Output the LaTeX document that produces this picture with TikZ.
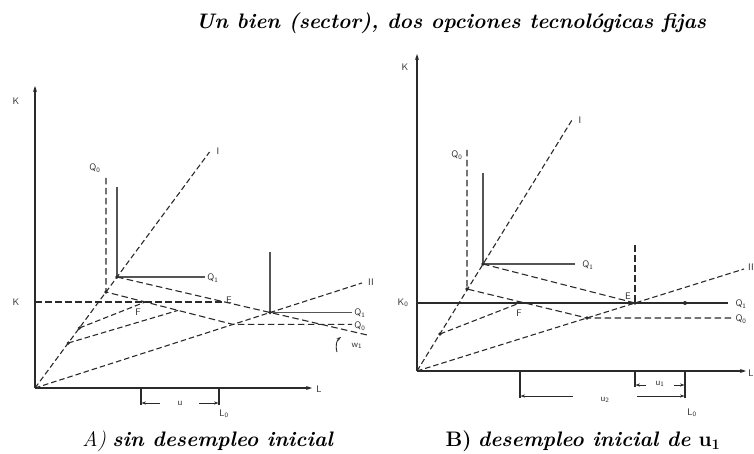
\documentclass[tikz,border=0pt]{standalone}
\usepackage{tikz}
\usetikzlibrary{arrows.meta}
\definecolor{plotink}{HTML}{2A2A2A}

\begin{document}
\begin{tikzpicture}[x=1pt,y=-1pt,
    axis/.style={plotink,line width=1.2pt,-{Stealth[length=6pt,width=4pt]}},
    ray/.style={plotink,line width=1.1pt,dash pattern=on 5.5pt off 3pt},
    dquant/.style={plotink,line width=1.1pt,dash pattern=on 6.5pt off 3.5pt},
    quant/.style={plotink!80,line width=1.5pt},
    tick/.style={plotink,line width=1.1pt},
    dimarr/.style={plotink,line width=0.9pt,-{Stealth[length=4.5pt,width=3.2pt]}},
    lbl/.style={font=\sffamily\fontsize{9.5}{10}\selectfont,text=plotink,inner sep=0.5pt},
    caption/.style={font=\fontsize{21}{24}\selectfont,text=black,inner sep=0pt}]
  \useasboundingbox (0,0) rectangle (754,454);

  \node[caption] (title) at (451,23) {\textbf{\textit{Un bien (sector), dos opciones tecnológicas fijas}}};

  % panel A
  \coordinate (oA) at (35,388);
  \coordinate (kA) at (35,86);
  \coordinate (lA) at (312,388);
  \coordinate (kA0) at (35,302);
  \coordinate (iA) at (209.5,152);
  \coordinate (iiA) at (362,283);
  \coordinate (q0A) at (106,292);
  \coordinate (q1A) at (117,277);
  \coordinate (r0A) at (233,324.4);
  \coordinate (r1A) at (270,312.5);
  \coordinate (wA) at (368,335.2);
  \coordinate (eA) at (224.8,302);
  \coordinate (fA) at (145.2,302);
  \coordinate (gA) at (178,310.4);
  \coordinate (pA) at (79.4,328);
  \coordinate (sA) at (68.3,343);

  \draw[axis] (oA) -- (kA);
  \draw[axis] (oA) -- (lA);
  \draw[ray] (oA) -- (iA);
  \draw[ray] (oA) -- (iiA);
  \draw[dquant] (kA0) -- (eA);
  \draw[dquant] (106,178) -- (q0A) -- (r0A) -- (352,324.4);
  \draw[quant] (117,187) -- (q1A) -- (205,277);
  \draw[dquant] (q1A) -- (r1A) -- (wA);
  \draw[quant] (270,252) -- (r1A) -- (352,312.5);
  \draw[ray] (pA) -- (fA);
  \draw[ray] (sA) -- (gA);
  \foreach \p in {pA,sA,q0A,q1A,r1A}
    \fill[plotink] (\p) circle (1.8);
  \draw[dimarr] (337,352) .. controls (335,345) and (337,340) .. (341,337);

  \node[lbl] (kAl) at (16,101) {K};
  \node[lbl] (kA0l) at (16,302) {K};
  \node[lbl] (lAl) at (319,389) {L};
  \node[lbl] (iAl) at (218,151) {I};
  \node[lbl] (iiAl) at (371,282) {II};
  \node[lbl] (q0Al) at (95,168) {Q\textsubscript{0}};
  \node[lbl] (q1Al) at (213,278) {Q\textsubscript{1}};
  \node[lbl] (q1Bl) at (360,313) {Q\textsubscript{1}};
  \node[lbl] (q0Bl) at (360,326) {Q\textsubscript{0}};
  \node[lbl] (wAl) at (357,346) {w\textsubscript{1}};
  \node[lbl] (eAl) at (229,300) {E};
  \node[lbl] (fAl) at (138,312) {F};

  \draw[tick] (141,388) -- (141,405);
  \draw[tick] (219,388) -- (219,405);
  \draw[dimarr] (160,403) -- (141.5,403);
  \draw[dimarr] (199,403) -- (218.5,403);
  \node[lbl] (uA) at (180,403) {u};
  \node[lbl] (l0A) at (224,414) {L\textsubscript{0}};

  \node[caption] (capA) at (208,441) {\textit{A)} \textbf{\textit{sin desempleo inicial}}};

  % panel B
  \coordinate (oB) at (417,371);
  \coordinate (kB) at (417,54);
  \coordinate (lB) at (746,371);
  \coordinate (kB0) at (417,303);
  \coordinate (kB1) at (728,303);
  \coordinate (iB) at (572,120);
  \coordinate (iiB) at (744,269);
  \coordinate (q0B) at (467,289);
  \coordinate (q1B) at (483,264);
  \coordinate (r0B) at (587,318);
  \coordinate (eB) at (635,303);
  \coordinate (fB) at (521,302.5);
  \coordinate (pB) at (440,334);

  \draw[axis] (oB) -- (kB);
  \draw[axis] (oB) -- (lB);
  \draw[ray] (oB) -- (iB);
  \draw[ray] (oB) -- (iiB);
  \draw[plotink,line width=1.2pt] (kB0) -- (kB1);
  \draw[dquant] (467,150) -- (q0B) -- (r0B) -- (733,318);
  \draw[quant] (483,173) -- (q1B) -- (575,264);
  \draw[dquant] (q1B) -- (eB);
  \draw[dquant] (635,245) -- (eB);
  \draw[ray] (pB) -- (fB);
  \foreach \p in {pB,q0B,q1B,r0B,eB}
    \fill[plotink] (\p) circle (1.8);
  \fill[plotink] (685,303) circle (2);

  \node[lbl] (kBl) at (405,67) {K};
  \node[lbl] (kB0l) at (403,303) {K\textsubscript{0}};
  \node[lbl] (lBl) at (751,373) {L};
  \node[lbl] (iBl) at (580,120) {I};
  \node[lbl,anchor=west] (iiBl) at (747.5,267) {II};
  \node[lbl] (q0Cl) at (457,155) {Q\textsubscript{0}};
  \node[lbl] (q1Cl) at (588,265) {Q\textsubscript{1}};
  \node[lbl] (q1Dl) at (741,304) {Q\textsubscript{1}};
  \node[lbl] (q0Dl) at (741,319) {Q\textsubscript{0}};
  \node[lbl] (eBl) at (628,296) {E};
  \node[lbl] (fBl) at (519,313) {F};

  \draw[tick] (520,371) -- (520,398);
  \draw[tick] (635,371) -- (635,387);
  \draw[tick] (685,371) -- (685,398);
  \draw[dimarr] (646,385) -- (635.5,385);
  \draw[dimarr] (674,385) -- (684.5,385);
  \node[lbl] (u1B) at (660,384) {u\textsubscript{1}};
  \draw[dimarr] (573,396) -- (520.5,396);
  \draw[dimarr] (637,396) -- (684.5,396);
  \node[lbl] (u2B) at (605,400) {u\textsubscript{2}};
  \node[lbl] (l0B) at (692,413) {L\textsubscript{0}};

  \node[caption] (capB) at (583,441) {\textbf{B)} \textbf{\textit{desempleo inicial de} u\textsubscript{1}}};
\end{tikzpicture}
\end{document}
